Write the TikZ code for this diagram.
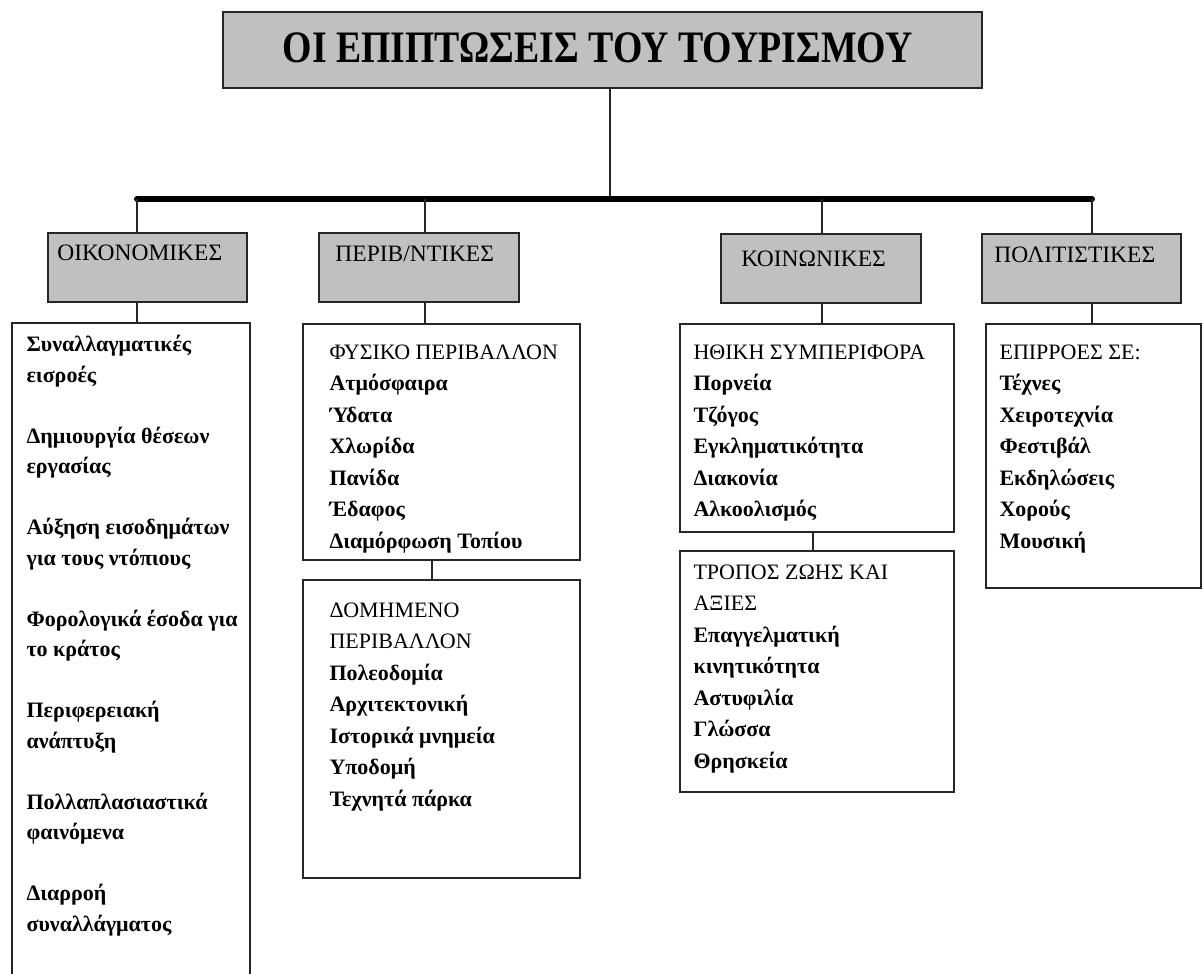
\documentclass[tikz,border=0pt]{standalone}
\usepackage{fontspec}
\setmainfont{Liberation Serif}
\usetikzlibrary{positioning,calc}
\definecolor{boxgray}{HTML}{C0C0C0}
\definecolor{edge}{HTML}{262626}
\tikzset{
  titlebox/.style={draw=edge, line width=2pt, fill=boxgray, inner sep=0pt},
  catbox/.style={draw=edge, line width=1.5pt, fill=boxgray, inner sep=0pt, minimum height=69pt},
  listbox/.style={draw=edge, line width=1.3pt, inner sep=0pt},
  cattext/.style={anchor=base west, inner sep=0pt, font=\fontsize{23.5}{27}\selectfont},
  listtext/.style={anchor=north west, inner sep=0pt, align=left, font=\fontsize{22}{31.5}\selectfont\bfseries},
  link/.style={draw=edge, line width=1.3pt},
  bar/.style={draw=black, line width=6pt, line cap=round}
}

\begin{document}
\begin{tikzpicture}[x=1pt,y=-1pt]
  \path[use as bounding box, fill=white] (0,0) rectangle (1203,974);
  \clip (0,0) rectangle (1203,974);

  % title
  \node[titlebox, minimum width=759pt, minimum height=76pt] (title) at (602.5,50) {};
  \node (titlelbl) at ($(title.center)+(-5,-2)$) {\scalebox{0.84}[1]{\fontsize{45}{50}\selectfont\bfseries ΟΙ ΕΠΙΠΤΩΣΕΙΣ ΤΟΥ ΤΟΥΡΙΣΜΟΥ}};

  % the four kinds of effects
  \node[catbox, minimum width=199pt] (oiko) at (147.5,267.5) {};
  \node[catbox, minimum width=200pt] (perib) at (419,267.5) {};
  \node[catbox, minimum width=200pt] (koin) at (821,268.5) {};
  \node[catbox, minimum width=199pt] (polit) at (1081.5,268.5) {};
  \node[cattext] (oikolbl) at ($(oiko.north west)+(10,28)$) {ΟΙΚΟΝΟΜΙΚΕΣ};
  \node[cattext] (peribl) at ($(perib.north west)+(17,29)$) {ΠΕΡΙΒ/ΝΤΙΚΕΣ};
  \node[cattext] (koinlbl) at ($(koin.north west)+(21,33)$) {ΚΟΙΝΩΝΙΚΕΣ};
  \node[cattext] (politlbl) at ($(polit.north west)+(13,29)$) {ΠΟΛΙΤΙΣΤΙΚΕΣ};

  % lists
  \node[listbox, minimum width=238pt, minimum height=677pt] (oikolist) at (131,661.5) {};
  \node[listbox, minimum width=277pt, minimum height=236pt] (fysiko) at (441.5,442) {};
  \node[listbox, minimum width=277pt, minimum height=298pt] (domimeno) at (441.5,729) {};
  \node[listbox, minimum width=274pt, minimum height=208pt] (ithiki) at (817,428) {};
  \node[listbox, minimum width=274pt, minimum height=241pt] (tropos) at (817,671.5) {};
  \node[listbox, minimum width=215pt, minimum height=264pt] (epirroes) at (1093.5,456) {};

  \node[listtext, font=\fontsize{22}{30.5}\selectfont\bfseries] (oikotxt) at ($(oikolist.north west)+(15,13)$)
    {Συναλλαγματικές\\εισροές\\[30.5pt]
     Δημιουργία θέσεων\\εργασίας\\[30.5pt]
     Αύξηση εισοδημάτων\\για τους ντόπιους\\[30.5pt]
     Φορολογικά έσοδα για\\το κράτος\\[30.5pt]
     Περιφερειακή\\ανάπτυξη\\[30.5pt]
     Πολλαπλασιαστικά\\φαινόμενα\\[30.5pt]
     Διαρροή\\συναλλάγματος};
  \node[listtext] (fysikotxt) at ($(fysiko.north west)+(27,21)$)
    {{\mdseries ΦΥΣΙΚΟ ΠΕΡΙΒΑΛΛΟΝ}\\Ατμόσφαιρα\\Ύδατα\\Χλωρίδα\\Πανίδα\\Έδαφος\\Διαμόρφωση Τοπίου};
  \node[listtext] (domtxt) at ($(domimeno.north west)+(27,23)$)
    {{\mdseries ΔΟΜΗΜΕΝΟ}\\{\mdseries ΠΕΡΙΒΑΛΛΟΝ}\\Πολεοδομία\\Αρχιτεκτονική\\Ιστορικά μνημεία\\Υποδομή\\Τεχνητά πάρκα};
  \node[listtext] (ithikitxt) at ($(ithiki.north west)+(14,21)$)
    {{\mdseries ΗΘΙΚΗ ΣΥΜΠΕΡΙΦΟΡΑ}\\Πορνεία\\Τζόγος\\Εγκληματικότητα\\Διακονία\\Αλκοολισμός};
  \node[listtext] (tropostxt) at ($(tropos.north west)+(14,14)$)
    {{\mdseries ΤΡΟΠΟΣ ΖΩΗΣ ΚΑΙ}\\{\mdseries ΑΞΙΕΣ}\\Επαγγελματική\\κινητικότητα\\Αστυφιλία\\Γλώσσα\\Θρησκεία};
  \node[listtext] (epirtxt) at ($(epirroes.north west)+(14,21)$)
    {{\mdseries ΕΠΙΡΡΟΕΣ ΣΕ:}\\Τέχνες\\Χειροτεχνία\\Φεστιβάλ\\Εκδηλώσεις\\Χορούς\\Μουσική};

  % connectors
  \coordinate (b1) at (137,199);
  \coordinate (b2) at (425,199);
  \coordinate (b3) at (822,199);
  \coordinate (b4) at (1092,199);
  \coordinate (bt) at (610,199);
  \draw[link] (bt |- title.south) -- (bt);
  \draw[bar] (b1) -- (b4);
  \foreach \b/\cat/\lst in {b1/oiko/oikolist, b2/perib/fysiko, b3/koin/ithiki, b4/polit/epirroes} {
    \draw[link] (\b) -- (\b |- \cat.north);
    \draw[link] (\b |- \cat.south) -- (\b |- \lst.north);
  }
  \draw[link] ([xshift=-9.5pt]fysiko.south) -- ([xshift=-9.5pt]domimeno.north);
  \draw[link] ([xshift=-4pt]ithiki.south) -- ([xshift=-4pt]tropos.north);
\end{tikzpicture}
\end{document}
